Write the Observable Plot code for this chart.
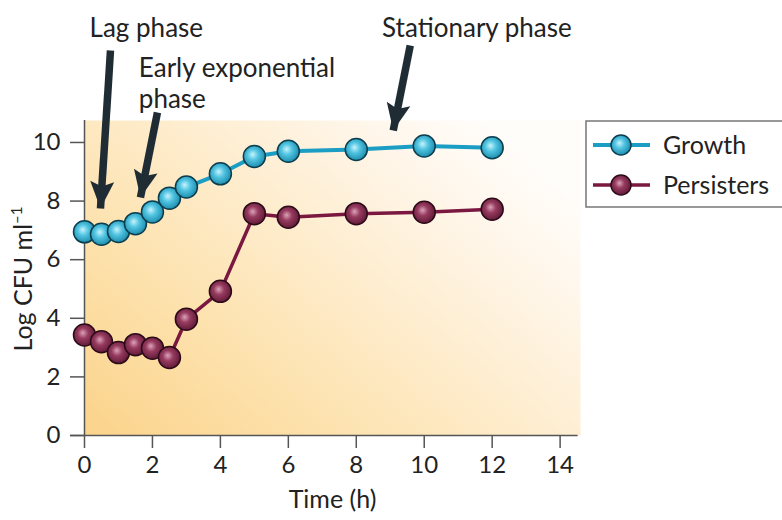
<!DOCTYPE html>
<html>
<head>
<meta charset="utf-8">
<script src="https://cdn.jsdelivr.net/npm/d3@7"></script>
<script src="https://cdn.jsdelivr.net/npm/@observablehq/plot@0.6"></script>
<style>
  html, body { margin: 0; padding: 0; background: #fff; }
  #chart { width: 782px; height: 520px; }
</style>
</head>
<body>
<div id="chart"></div>
<script>
// ---- data ----
const timeGrowth = [0, 0.5, 1, 1.5, 2, 2.5, 3, 4, 5, 6, 8, 10, 12];
const growthValues = [6.95, 6.87, 6.96, 7.23, 7.63, 8.1, 8.48, 8.93, 9.52, 9.7, 9.76, 9.88, 9.82];
const timePersisters = [0, 0.5, 1, 1.5, 2, 2.5, 3, 4, 5, 6, 8, 10, 12];
const persisterValues = [3.43, 3.2, 2.83, 3.1, 2.98, 2.66, 3.97, 4.92, 7.57, 7.45, 7.57, 7.62, 7.72];
const xTicks = [0, 2, 4, 6, 8, 10, 12, 14];
const yTicks = [0, 2, 4, 6, 8, 10];
const seriesNames = ["Growth", "Persisters"];

// annotations (data coordinates)
const annText = ["Lag phase", "Early exponential\nphase", "Stationary phase"];
const annX = [0.15, 1.6, 8.76];
const annY = [14.36, 12.99, 14.36];
const arrowX1 = [0.765, 2.147, 9.588];
const arrowY1 = [13.14, 11.02, 13.31];
const arrowX2 = [0.47, 1.647, 9.088];
const arrowY2 = [7.75, 8.12, 10.41];

// ---- layout ----
const W = 782, H = 520;
const mL = 84, mR = 202, mT = 120, mB = 85;
const xDomain = [0, 14.6], yDomain = [0, 10.75];
const xs = Plot.scale({x: {domain: xDomain, range: [mL, W - mR]}});
const ys = Plot.scale({y: {domain: yDomain, range: [H - mB, mT]}});

const growthData = timeGrowth.map((t, i) => ({t, v: growthValues[i]}));
const persData = timePersisters.map((t, i) => ({t, v: persisterValues[i]}));
const annData = annText.map((s, i) => ({s, x: annX[i], y: annY[i]}));
const arrowData = arrowX1.map((x1, i) => {
  const dx = xs.apply(arrowX2[i]) - xs.apply(x1);
  const dy = ys.apply(arrowY2[i]) - ys.apply(arrowY1[i]);
  return {x1, y1: arrowY1[i], x2: arrowX2[i], y2: arrowY2[i],
          rot: Math.atan2(dx, -dy) * 180 / Math.PI};
});

// filled arrow head, tip at origin, pointing up
const headSymbol = {
  draw(ctx) {
    ctx.moveTo(0, 0);
    ctx.lineTo(12, 27);
    ctx.lineTo(0, 22);
    ctx.lineTo(-12, 27);
    ctx.closePath();
  }
};

const ink = "#1f2c34";
const growthLine = "#1b9dc4";
const persLine = "#7a1840";
const fontStack = "Lato, 'Open Sans', sans-serif";

const svg = Plot.plot({
  width: W, height: H,
  marginLeft: mL, marginRight: mR, marginTop: mT, marginBottom: mB,
  x: {domain: xDomain},
  y: {domain: yDomain},
  style: {fontFamily: fontStack, fontSize: "24px", color: "#222", background: "transparent", overflow: "visible"},
  marks: [
    Plot.frame({fill: "url(#bgGrad)", stroke: "none"}),
    Plot.ruleY([0], {x1: -0.41, x2: 14.53, stroke: "#555", strokeWidth: 1.5}),
    Plot.ruleX([0], {y1: 0, y2: yDomain[1], stroke: "#555", strokeWidth: 1.5}),
    Plot.axisX({ticks: xTicks, tickSize: 13, tickPadding: 7, fontSize: 24, stroke: "#555", strokeWidth: 1.5, label: null, fill: "#222"}),
    Plot.axisY({ticks: yTicks, tickSize: 14, tickPadding: 10, fontSize: 24, stroke: "#555", strokeWidth: 1.5, label: null, fill: "#222"}),
    Plot.line(growthData, {x: "t", y: "v", stroke: growthLine, strokeWidth: 4}),
    Plot.line(persData, {x: "t", y: "v", stroke: persLine, strokeWidth: 3.5}),
    Plot.dot(growthData, {x: "t", y: "v", r: 11, fill: "url(#gGrowth)", stroke: "#0d3e4e", strokeWidth: 1.5}),
    Plot.dot(persData, {x: "t", y: "v", r: 11, fill: "url(#gPers)", stroke: "#2c0b19", strokeWidth: 1.5}),
    Plot.link(arrowData, {x1: "x1", y1: "y1", x2: "x2", y2: "y2", stroke: ink, strokeWidth: 7.5, insetEnd: 16}),
    Plot.dot(arrowData, {x: "x2", y: "y2", symbol: headSymbol, rotate: "rot", fill: ink, stroke: "none"}),
    Plot.text(annData, {x: "x", y: "y", text: "s", textAnchor: "start", lineAnchor: "top", lineHeight: 1.2, fontSize: 26, fill: "#222"}),
    Plot.text(["Time (h)"], {frameAnchor: "bottom", dy: 64, fontSize: 25, fill: "#222", lineAnchor: "middle"})
  ]
});

const s = d3.select(svg);
s.insert("defs", ":first-child").html(`
  <linearGradient id="bgGrad" x1="0" y1="1" x2="1" y2="0.25" gradientUnits="objectBoundingBox">
    <stop offset="0" stop-color="#fbd38b"/>
    <stop offset="0.3" stop-color="#fde1ab"/>
    <stop offset="0.6" stop-color="#feedcf"/>
    <stop offset="0.85" stop-color="#fff7ec"/>
    <stop offset="1" stop-color="#fffdfa"/>
  </linearGradient>
  <radialGradient id="gGrowth" cx="0.45" cy="0.45" r="0.6" fx="0.42" fy="0.4">
    <stop offset="0" stop-color="#c8f3fc"/>
    <stop offset="0.4" stop-color="#52c5e2"/>
    <stop offset="1" stop-color="#1686a7"/>
  </radialGradient>
  <radialGradient id="gPers" cx="0.45" cy="0.45" r="0.6" fx="0.42" fy="0.4">
    <stop offset="0" stop-color="#dca3b8"/>
    <stop offset="0.4" stop-color="#963b5f"/>
    <stop offset="1" stop-color="#5c1632"/>
  </radialGradient>
`);

// y-axis label with superscript
const yl = s.append("text")
  .attr("transform", "translate(32,279) rotate(-90)")
  .attr("text-anchor", "middle")
  .attr("font-family", fontStack)
  .attr("font-size", 25)
  .attr("fill", "#222");
yl.append("tspan").text("Log CFU ml");
yl.append("tspan").attr("font-size", 15).attr("dy", -10).text("–1");

// legend
const lg = s.append("g");
lg.append("rect").attr("x", 586).attr("y", 121).attr("width", 210).attr("height", 86)
  .attr("fill", "#fff").attr("stroke", "#777").attr("stroke-width", 1.5);
const legendColors = [[growthLine, "url(#gGrowth)", "#0d3e4e", 4], [persLine, "url(#gPers)", "#2c0b19", 3.5]];
seriesNames.forEach((name, i) => {
  const yy = 145 + i * 40;
  const [lc, fc, sc, sw] = legendColors[i];
  lg.append("line").attr("x1", 593).attr("x2", 650).attr("y1", yy).attr("y2", yy)
    .attr("stroke", lc).attr("stroke-width", sw);
  lg.append("circle").attr("cx", 621).attr("cy", yy).attr("r", 10)
    .attr("fill", fc).attr("stroke", sc).attr("stroke-width", 1.5);
  lg.append("text").attr("x", 663).attr("y", yy + 9).attr("text-anchor", "start")
    .attr("font-family", fontStack).attr("font-size", 25).attr("fill", "#222").text(name);
});

document.getElementById("chart").appendChild(svg);
</script>
</body>
</html>
